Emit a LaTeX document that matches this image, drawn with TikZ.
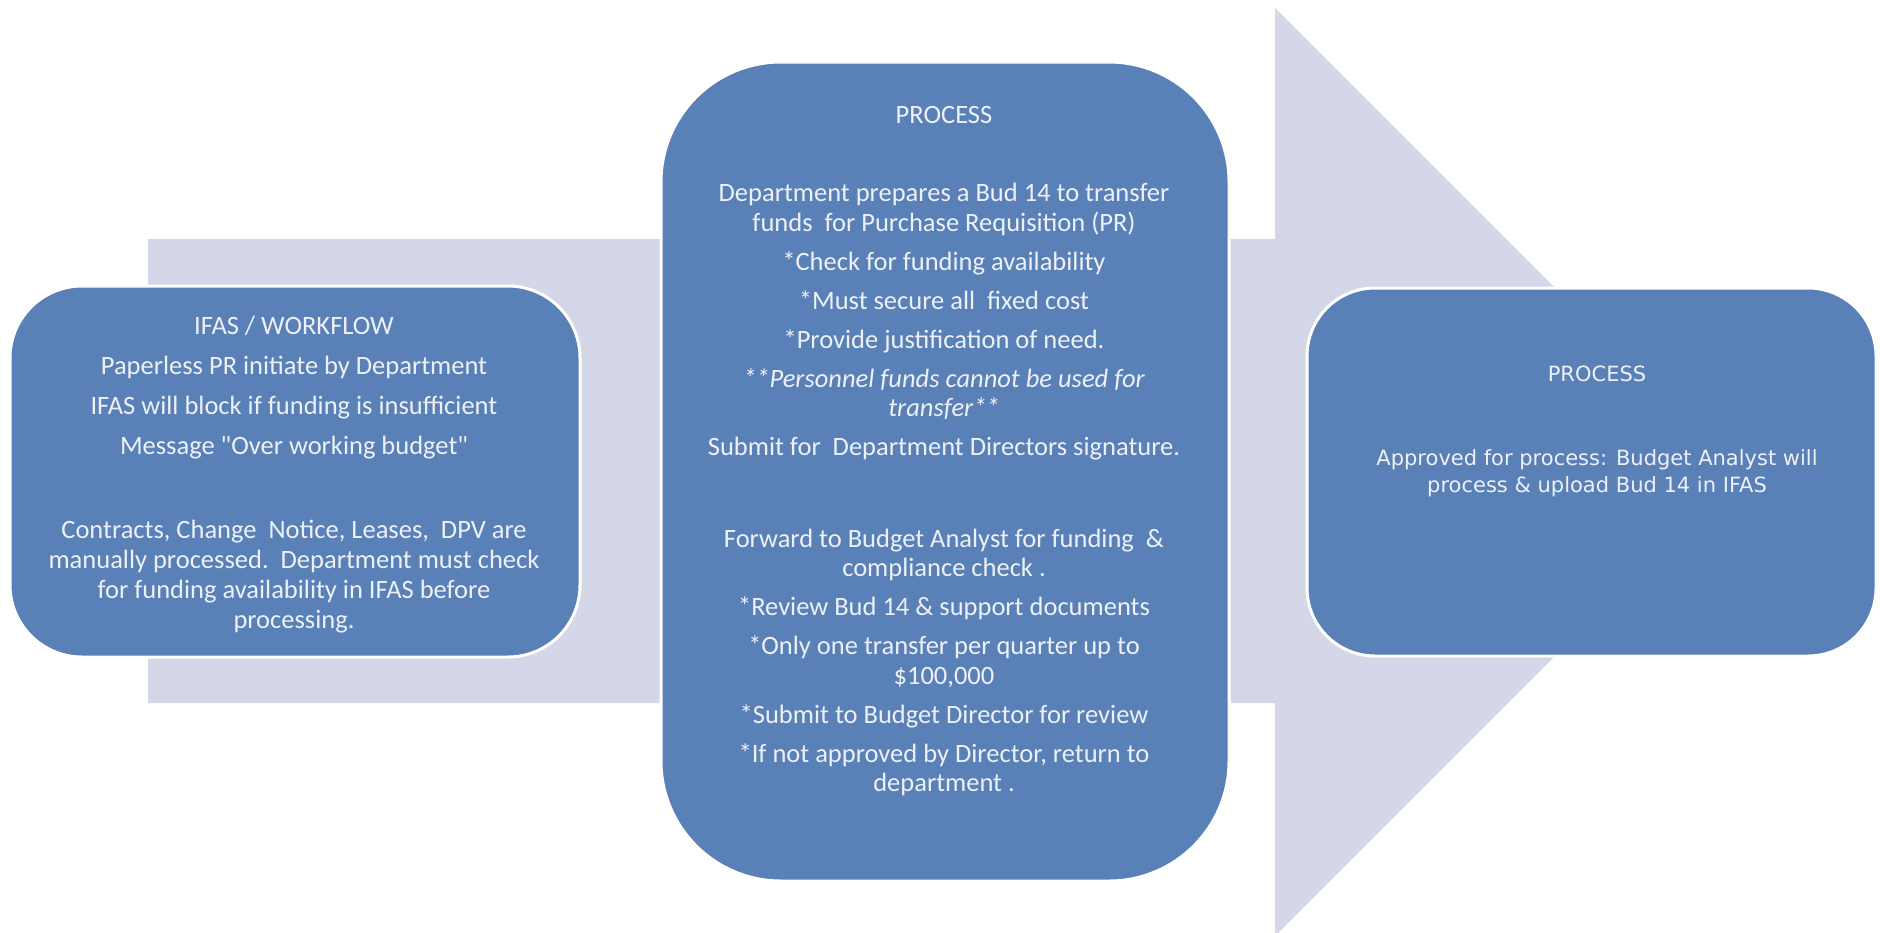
\documentclass[tikz,border=0pt]{standalone}
\usepackage{fontspec}
% families declared with \newfontfamily keep ASCII quotes straight
\newfontfamily\bodyfont{Carlito}
\newfontfamily\widesans{DejaVu Sans}
\definecolor{boxblue}{HTML}{5A80B8}
\definecolor{arrowgrey}{HTML}{D3D7E8}
\definecolor{textwhite}{HTML}{EDF1F7}
\begin{document}
\begin{tikzpicture}[x=1pt,y=-1pt,
  stepbox/.style={draw=white, line width=3pt, fill=boxblue, inner sep=0pt},
  boxtext/.style={text=textwhite, align=center, inner sep=0pt, anchor=north,
    font=\bodyfont\fontsize{26.5}{30}\selectfont},
]
\useasboundingbox (0,0) rectangle (1880,932);
\fill[white] (0,0) rectangle (1880,932);
\clip (0,0) rectangle (1880,932);

% background block arrow
\fill[arrowgrey] (148,239) -- (1275,239) -- (1275,8) -- (1739,472)
  -- (1275,936) -- (1275,703) -- (148,703) -- cycle;

% the three process boxes
\node[stepbox, minimum width=570, minimum height=371, rounded corners=72]
  (left) at (295,471.5) {};
\node[stepbox, minimum width=568, minimum height=819, rounded corners=120]
  (middle) at (945,471.5) {};
\node[stepbox, minimum width=569, minimum height=368, rounded corners=68]
  (right) at (1591.5,472) {};

% texts
\node[boxtext] (lefttext) at (294,316) {%
  IFAS / WORKFLOW\\[10pt]
  Paperless PR initiate by Department\\[10pt]
  IFAS will block if funding is insufficient\\[10pt]
  Message "Over working budget"\\[54pt]
  Contracts, Change\ \ Notice, Leases,\ \ DPV are\\
  manually processed.\ \ Department must check\\
  for funding availability in IFAS before\\
  processing.};

\node[boxtext, font=\bodyfont\fontsize{26.5}{29.5}\selectfont] (middletext) at (944,106) {%
  PROCESS\\[49pt]
  Department prepares a Bud 14 to transfer\\
  funds\ \ for Purchase Requisition (PR)\\[9.5pt]
  *Check for funding availability\\[9.5pt]
  *Must secure all\ \ fixed cost\\[9.5pt]
  *Provide justification of need.\\[9.5pt]
  \itshape **Personnel funds cannot be used for\\
  \itshape transfer**\\[9.5pt]
  Submit for\ \ Department Directors signature.\\[62pt]
  Forward to Budget Analyst for funding\ \ \&\\
  compliance check .\\[9.5pt]
  *Review Bud 14 \& support documents\\[9.5pt]
  *Only one transfer per quarter up to\\
  \$100,000\\[9.5pt]
  *Submit to Budget Director for review\\[9.5pt]
  *If not approved by Director, return to\\
  department .};

\node[boxtext, font=\widesans\fontsize{21}{27}\selectfont] (righttext) at (1597,366) {%
  PROCESS\\[57pt]
  Approved for process: Budget Analyst will\\
  process \& upload Bud 14 in IFAS};
\end{tikzpicture}
\end{document}
